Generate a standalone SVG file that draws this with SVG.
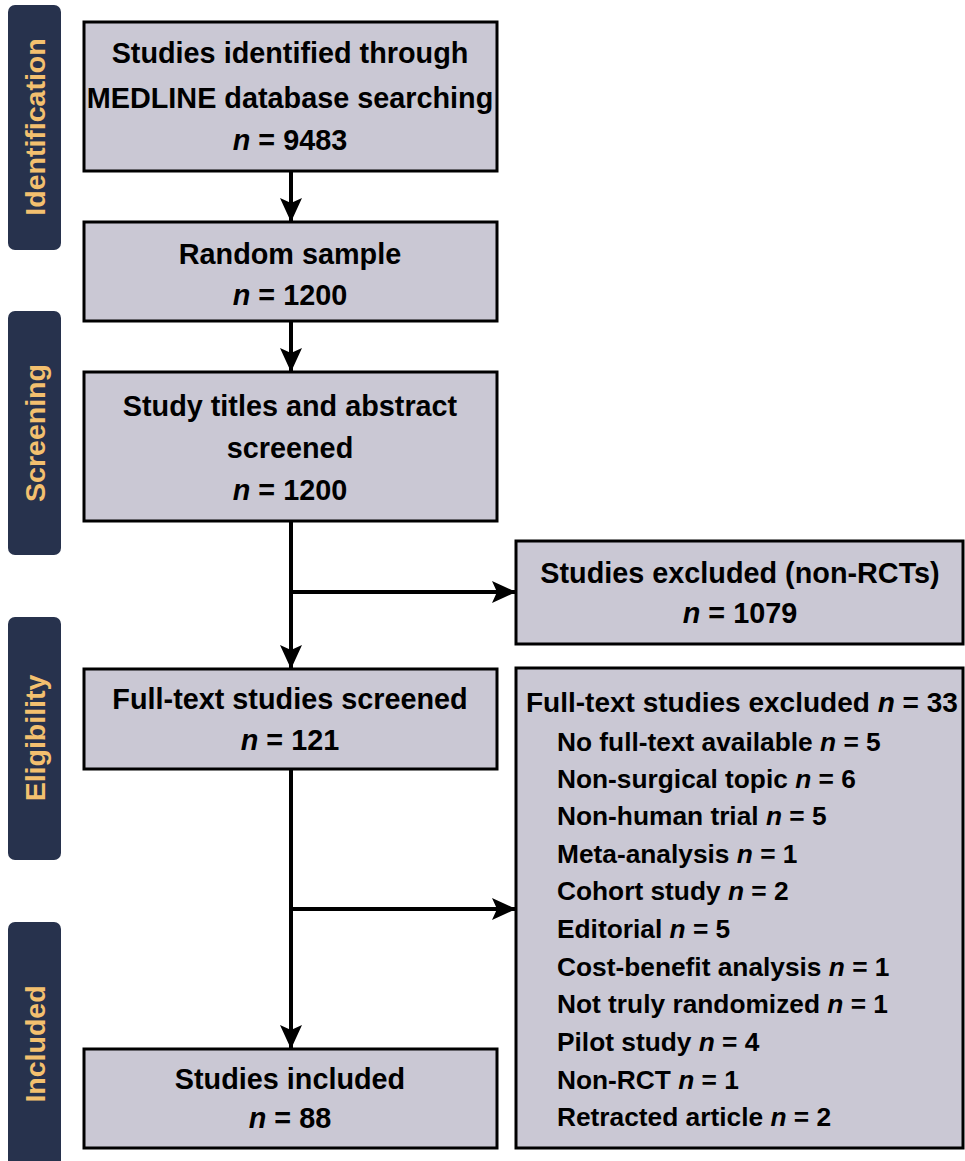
<svg xmlns="http://www.w3.org/2000/svg" width="965" height="1161" viewBox="0 0 965 1161">
  <style>
    .phase { fill: #27324d; }
    .phase-label { fill: #f3c06f; font-family: "Liberation Sans", Arial, sans-serif; font-weight: bold; font-size: 28.5px; text-anchor: middle; dominant-baseline: central; }
    .box { fill: #cac8d4; stroke: #000; stroke-width: 3; }
    .t { font-family: "Liberation Sans", Arial, sans-serif; font-weight: bold; font-size: 28.8px; fill: #000; }
    .c { text-anchor: middle; }
    .hd { font-size: 28px; }
    .li { font-size: 26.3px; }
    .n { font-style: italic; }
    .conn { fill: none; stroke: #000; stroke-width: 4; }
  </style>
  <defs>
    <marker id="arrow" markerUnits="userSpaceOnUse" markerWidth="24" markerHeight="22" refX="24" refY="11" orient="auto">
      <path d="M0,0 L24,11 L0,22 L5,11 Z" fill="#000"/>
    </marker>
  </defs>

  <rect width="965" height="1161" fill="#fff"/>

  <!-- phase bars -->
  <g id="phase-identification">
    <rect class="phase" x="8" y="5" width="53" height="245" rx="7"/>
    <text class="phase-label" transform="translate(35,127) rotate(-90)">Identification</text>
  </g>
  <g id="phase-screening">
    <rect class="phase" x="8" y="311" width="53" height="244" rx="7"/>
    <text class="phase-label" transform="translate(35,433) rotate(-90)">Screening</text>
  </g>
  <g id="phase-eligibility">
    <rect class="phase" x="8" y="617" width="53" height="243" rx="7"/>
    <text class="phase-label" transform="translate(35,738) rotate(-90)">Eligibility</text>
  </g>
  <g id="phase-included">
    <rect class="phase" x="8" y="922" width="53" height="250" rx="7"/>
    <text class="phase-label" transform="translate(35,1044) rotate(-90)">Included</text>
  </g>

  <!-- connectors -->
  <g id="connectors">
    <line class="conn" x1="291" y1="171" x2="291" y2="222" marker-end="url(#arrow)"/>
    <line class="conn" x1="291" y1="321" x2="291" y2="372" marker-end="url(#arrow)"/>
    <line class="conn" x1="291" y1="521" x2="291" y2="669" marker-end="url(#arrow)"/>
    <line class="conn" x1="289" y1="592" x2="516" y2="592" marker-end="url(#arrow)"/>
    <line class="conn" x1="291" y1="769" x2="291" y2="1049" marker-end="url(#arrow)"/>
    <line class="conn" x1="289" y1="909" x2="516" y2="909" marker-end="url(#arrow)"/>
  </g>

  <!-- flow boxes -->
  <g id="identified">
    <rect class="box" x="84" y="22" width="413" height="149"/>
    <text class="t c" x="290" y="63">Studies identified through</text>
    <text class="t c" x="290" y="108">MEDLINE database searching</text>
    <text class="t c" x="290" y="150"><tspan class="n">n</tspan> = 9483</text>
  </g>
  <g id="random-sample">
    <rect class="box" x="84" y="222" width="413" height="99"/>
    <text class="t c" x="290" y="264">Random sample</text>
    <text class="t c" x="290" y="305"><tspan class="n">n</tspan> = 1200</text>
  </g>
  <g id="abstract-screened">
    <rect class="box" x="84" y="372" width="413" height="149"/>
    <text class="t c" x="290" y="416">Study titles and abstract</text>
    <text class="t c" x="290" y="458">screened</text>
    <text class="t c" x="290" y="500"><tspan class="n">n</tspan> = 1200</text>
  </g>
  <g id="excluded-non-rct">
    <rect class="box" x="516" y="541" width="447" height="103"/>
    <text class="t c" x="740" y="583">Studies excluded (non-RCTs)</text>
    <text class="t c" x="740" y="623"><tspan class="n">n</tspan> = 1079</text>
  </g>
  <g id="fulltext-screened">
    <rect class="box" x="84" y="669" width="413" height="100"/>
    <text class="t c" x="290" y="709">Full-text studies screened</text>
    <text class="t c" x="290" y="750"><tspan class="n">n</tspan> = 121</text>
  </g>
  <g id="fulltext-excluded">
    <rect class="box" x="516" y="668" width="447" height="480"/>
    <text class="t hd" x="526" y="712">Full-text studies excluded <tspan class="n">n</tspan> = 33</text>
    <text class="t li" x="557" y="751">No full-text available <tspan class="n">n</tspan> = 5</text>
    <text class="t li" x="557" y="788">Non-surgical topic <tspan class="n">n</tspan> = 6</text>
    <text class="t li" x="557" y="825">Non-human trial <tspan class="n">n</tspan> = 5</text>
    <text class="t li" x="557" y="863">Meta-analysis <tspan class="n">n</tspan> = 1</text>
    <text class="t li" x="557" y="900">Cohort study <tspan class="n">n</tspan> = 2</text>
    <text class="t li" x="557" y="938">Editorial <tspan class="n">n</tspan> = 5</text>
    <text class="t li" x="557" y="976">Cost-benefit analysis <tspan class="n">n</tspan> = 1</text>
    <text class="t li" x="557" y="1013">Not truly randomized <tspan class="n">n</tspan> = 1</text>
    <text class="t li" x="557" y="1051">Pilot study <tspan class="n">n</tspan> = 4</text>
    <text class="t li" x="557" y="1089">Non-RCT <tspan class="n">n</tspan> = 1</text>
    <text class="t li" x="557" y="1126">Retracted article <tspan class="n">n</tspan> = 2</text>
  </g>
  <g id="included">
    <rect class="box" x="84" y="1049" width="413" height="99"/>
    <text class="t c" x="290" y="1089">Studies included</text>
    <text class="t c" x="290" y="1128"><tspan class="n">n</tspan> = 88</text>
  </g>
</svg>
